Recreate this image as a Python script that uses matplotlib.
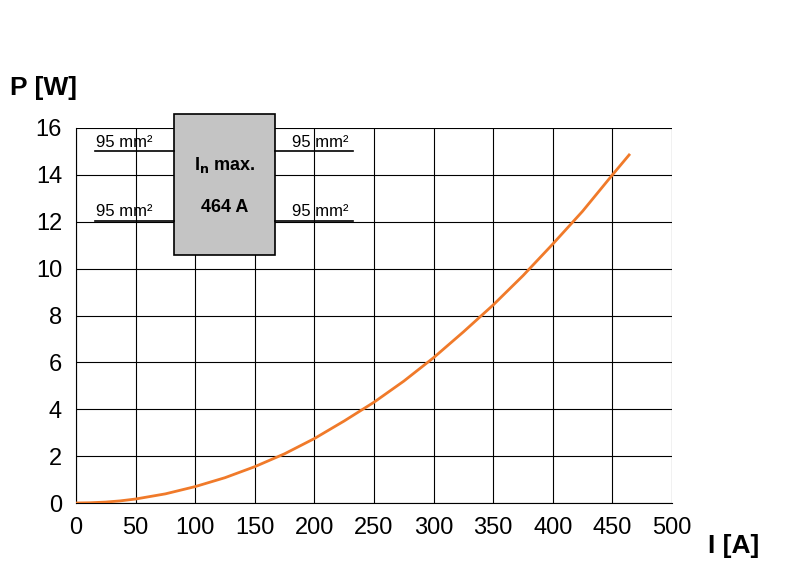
import matplotlib
matplotlib.use('Agg')
import numpy as np
import matplotlib.pyplot as plt
from matplotlib.patches import Rectangle

plt.rcParams['font.family'] = ['Liberation Sans Narrow', 'Liberation Sans', 'DejaVu Sans']

# readings
current = [0, 12, 25, 37, 50, 75, 100, 125, 150, 175, 200, 225, 250, 275, 300,
           325, 350, 375, 400, 425, 450, 464]
power = [0, 0.01, 0.04, 0.09, 0.17, 0.39, 0.7, 1.08, 1.55, 2.1, 2.75, 3.5, 4.3, 5.2, 6.2,
         7.3, 8.45, 9.7, 11.05, 12.45, 14.0, 14.85]

xticks = list(range(0, 501, 50))
yticks = list(range(0, 17, 2))

fig = plt.figure(figsize=(8, 5.66), dpi=100)
ax = fig.add_axes([76/800, 1-503/566, 596/800, 375/566])

ax.plot(current, power, color='#f07a2a', lw=2, zorder=3)
ax.set_xlim(0, 500)
ax.set_ylim(0, 16)
ax.set_xticks(xticks)
ax.set_yticks(yticks)
ax.tick_params(labelsize=17, length=0, pad=10)
ax.grid(True, color='black', lw=0.8)
for s in ax.spines.values():
    s.set_linewidth(0.8)
    s.set_color('black')
ax.spines['top'].set_visible(False)
ax.spines['right'].set_visible(False)

# schematic box
ax.add_patch(Rectangle((82, 10.6), 85, 6.0, facecolor='#c4c4c4', edgecolor='black',
                       lw=1.2, zorder=4, clip_on=False))
for yl in (15.0, 12.05):
    ax.plot([16, 82], [yl, yl], color='black', lw=1.2, zorder=4)
    ax.plot([167, 232], [yl, yl], color='black', lw=1.2, zorder=4)
    ax.text(17, yl + 0.05, '95 mm²', fontsize=12, va='bottom', zorder=5)
    ax.text(181, yl + 0.05, '95 mm²', fontsize=12, va='bottom', zorder=5)
ax.text(124.5, 14.2, r'I$_\mathbf{n}$ max.', fontsize=13, fontweight='bold', ha='center', zorder=5)
ax.text(124.5, 12.4, '464 A', fontsize=13, fontweight='bold', ha='center', zorder=5)

fig.text(10/800, 1-88/566, 'P [W]', fontsize=19, fontweight='bold', va='center')
fig.text(708/800, 1-546/566, 'I [A]', fontsize=19, fontweight='bold', va='center')

fig.savefig('out.png', dpi=100)
